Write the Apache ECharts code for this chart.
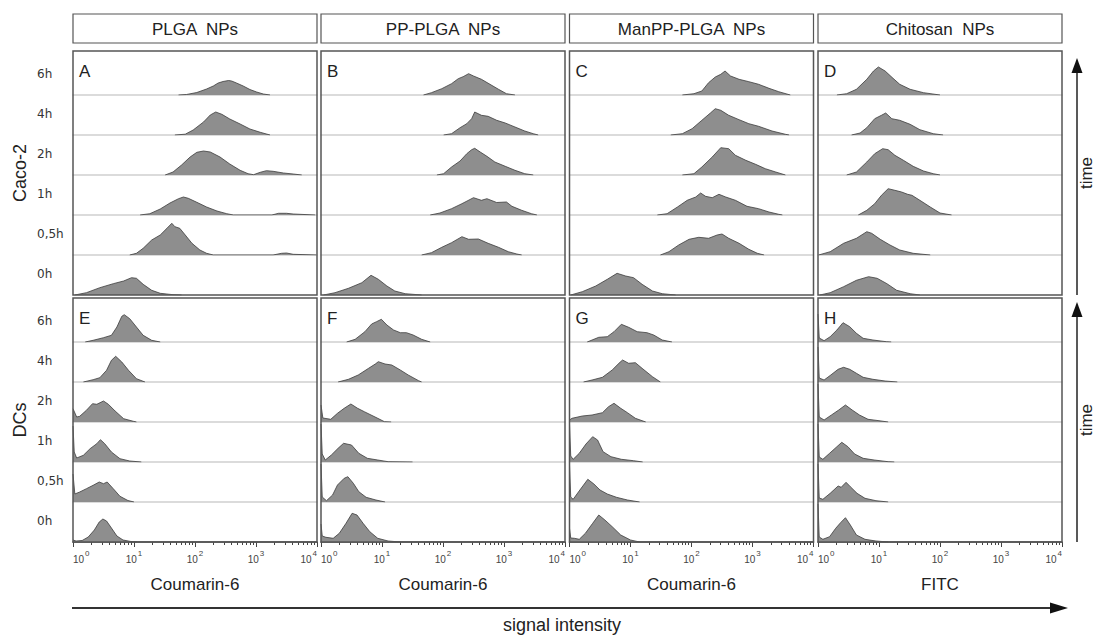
<!DOCTYPE html>
<html>
<head>
<meta charset="utf-8">
<script src="https://cdn.jsdelivr.net/npm/echarts@6/dist/echarts.min.js"></script>
<style>
  html, body { margin: 0; padding: 0; background: #fff; }
  #chart { width: 1097px; height: 635px; }
</style>
</head>
<body>
<div id="chart"></div>
<script>
// Row labels, top strip first
const timePoints = ['6h', '4h', '2h', '1h', '0,5h', '0h'];
const particles = ['PLGA  NPs', 'PP-PLGA  NPs', 'ManPP-PLGA  NPs', 'Chitosan  NPs'];
const dyes = ['Coumarin-6', 'Coumarin-6', 'Coumarin-6', 'FITC'];
const cellLines = ['Caco-2', 'DCs'];
const panelLetters = ['A', 'B', 'C', 'D', 'E', 'F', 'G', 'H'];
// decade exponents shown on the log axis (10^0 .. 10^4)
const decades = [0, 1, 2, 3, 4];

// Histograms: [log10 signal intensity, cell count (scaled)], order 6h .. 0h
const histA = [
  [[1.73,0],[1.86,0.5],[2.03,2.5],[2.19,6],[2.30,9],[2.38,12],[2.46,13.5],[2.55,14.5],[2.60,14],[2.68,12],[2.79,9],[2.90,5.5],[3.01,3],[3.12,1],[3.23,0]],
  [[1.67,0],[1.84,0.8],[1.97,5],[2.14,13],[2.25,20],[2.34,23],[2.44,20.7],[2.57,16],[2.74,11],[2.90,6],[3.07,2.7],[3.23,0]],
  [[1.51,0],[1.64,3],[1.78,10],[1.92,18],[2.03,22.7],[2.14,24],[2.25,23],[2.41,18],[2.57,11],[2.74,4.7],[2.87,1.3],[2.96,0.3],[3.07,2.7],[3.17,4.3],[3.28,3.7],[3.45,2],[3.61,1],[3.75,0]],
  [[1.10,0],[1.26,1.3],[1.43,6],[1.59,12],[1.73,16.3],[1.81,18],[1.89,16.7],[2.03,12.7],[2.19,8],[2.36,4],[2.52,1.3],[2.63,0],[3.26,0],[3.37,1.7],[3.50,1.7],[3.61,1],[3.97,0]],
  [[0.93,0],[1.04,1.7],[1.15,6.7],[1.29,15],[1.43,20],[1.54,26.7],[1.62,31.7],[1.67,28.3],[1.75,26.7],[1.84,20],[1.95,11.7],[2.08,5],[2.19,1.7],[2.30,0],[3.28,0],[3.42,1.7],[3.50,2],[3.61,0.7],[3.99,0]],
  [[0.03,0],[0.22,2.3],[0.44,7.3],[0.66,11.3],[0.83,14],[0.96,17.3],[1.04,16.7],[1.15,10.7],[1.29,4.7],[1.43,1.7],[1.64,0.3],[1.78,0]]
];
const histB = [
  [[1.68,0],[1.81,2.3],[1.98,6.3],[2.14,11.3],[2.25,16.3],[2.33,18.3],[2.42,21.3],[2.50,19],[2.63,15.7],[2.77,10.7],[2.91,5.7],[3.04,1.3],[3.18,0]],
  [[2.01,0],[2.14,1.3],[2.28,7.3],[2.39,11.3],[2.47,16.3],[2.52,23],[2.63,19.7],[2.74,18.7],[2.88,14.7],[3.02,12],[3.18,8],[3.34,4],[3.48,1.3],[3.56,0]],
  [[1.90,0],[2.01,1.3],[2.14,8],[2.28,14],[2.39,21.3],[2.47,25.3],[2.52,26.7],[2.61,23],[2.72,18.7],[2.85,13],[3.02,8.7],[3.18,4.7],[3.34,1.3],[3.48,0]],
  [[1.79,0],[1.95,2],[2.14,6.3],[2.31,11.3],[2.50,17.3],[2.63,14.7],[2.72,16.3],[2.88,12.5],[3.04,13],[3.13,8.7],[3.29,4.7],[3.45,1.3],[3.54,0]],
  [[1.65,0],[1.81,2.3],[1.98,7.7],[2.14,12.3],[2.31,18.3],[2.42,15.7],[2.58,16],[2.74,11.7],[2.91,7.7],[3.07,3.3],[3.21,1],[3.29,0]],
  [[0.04,0],[0.23,2.3],[0.45,6.7],[0.67,12.3],[0.82,19.7],[0.94,15.7],[1.08,9],[1.21,4],[1.38,1.3],[1.65,0]]
];
const histC = [
  [[1.85,0],[2.04,1.3],[2.17,4],[2.28,12.3],[2.39,18],[2.48,20.7],[2.55,24],[2.64,19],[2.78,15.7],[2.94,13.3],[3.10,10.7],[3.27,6.7],[3.43,3.3],[3.62,0]],
  [[1.66,0],[1.85,1.3],[2.01,6.3],[2.17,14.7],[2.31,22],[2.39,26.3],[2.48,24.7],[2.61,19.7],[2.78,15.3],[2.94,11.3],[3.10,8.7],[3.32,4],[3.54,0.7],[3.60,0]],
  [[1.85,0],[2.04,1.3],[2.17,8],[2.34,18],[2.48,27.3],[2.61,26.3],[2.72,19.7],[2.89,14.7],[3.05,10.7],[3.21,6.3],[3.38,3],[3.54,0]],
  [[1.44,0],[1.60,1.3],[1.77,8],[1.93,14.7],[2.07,18],[2.15,22],[2.23,18.7],[2.34,17.3],[2.45,20.7],[2.56,18],[2.72,14.7],[2.91,8.7],[3.10,6.3],[3.27,3],[3.43,0.7],[3.49,0]],
  [[1.49,0],[1.63,3.3],[1.79,10],[1.96,15.7],[2.12,17.7],[2.28,16.7],[2.42,20],[2.50,21],[2.61,16.7],[2.78,11.7],[2.94,5.7],[3.08,1.7],[3.19,0]],
  [[0.02,0],[0.21,3.3],[0.43,9],[0.62,15.7],[0.78,21.7],[0.92,19],[1.05,17.3],[1.19,10.7],[1.36,4],[1.52,1.3],[1.74,0]]
];
const histD = [
  [[0.31,0],[0.47,1.3],[0.63,5.7],[0.80,15.7],[0.91,24],[0.99,28],[1.10,24],[1.23,16.7],[1.34,10.7],[1.51,5.7],[1.73,2.3],[2.00,0]],
  [[0.55,0],[0.69,2],[0.80,7.3],[0.93,16.3],[1.04,19.7],[1.11,22],[1.21,16.3],[1.34,14.7],[1.51,10.7],[1.67,5.3],[1.89,1.3],[2.05,0]],
  [[0.47,0],[0.63,3],[0.80,13],[0.93,21.3],[1.06,26.3],[1.15,25.3],[1.26,19.7],[1.40,14.7],[1.56,8.7],[1.73,4],[1.89,1.3],[2.00,0]],
  [[0.66,0],[0.80,4.7],[0.93,11.3],[1.04,19.7],[1.15,26.3],[1.26,24.7],[1.37,23],[1.47,20.7],[1.54,19.7],[1.67,14.7],[1.84,8],[2.00,2],[2.19,0]],
  [[0.01,0],[0.20,3.3],[0.42,11.7],[0.63,16.7],[0.80,23.3],[0.88,21.7],[1.02,15.7],[1.18,10],[1.34,5],[1.56,1.7],[1.84,0]],
  [[0.03,0],[0.20,2.3],[0.42,8.3],[0.63,14.7],[0.83,18.3],[0.97,16.7],[1.13,11.3],[1.29,4.7],[1.51,1.3],[1.67,0]]
];
const histE = [
  [[0.20,0],[0.33,1.7],[0.50,4.3],[0.63,6.7],[0.72,15],[0.80,25.7],[0.84,27.3],[0.93,23.3],[1.04,15],[1.15,6.7],[1.29,1.7],[1.43,0]],
  [[0.17,0],[0.33,2.3],[0.44,4.3],[0.55,11.7],[0.63,21.7],[0.70,25.7],[0.80,20],[0.91,11.7],[1.04,3.3],[1.18,0]],
  [[0,13.3],[0.06,5],[0.11,5.7],[0.22,11.7],[0.32,18.3],[0.39,17.7],[0.50,21],[0.58,17.7],[0.69,11],[0.83,3.3],[0.99,0.7],[1.04,0]],
  [[0,36],[0.02,10],[0.06,4],[0.17,6.7],[0.28,13.3],[0.39,18.3],[0.45,22.3],[0.52,18.3],[0.63,10],[0.77,3.3],[0.93,1],[1.12,0]],
  [[0,28],[0.03,8],[0.11,10],[0.22,13.3],[0.33,16.7],[0.43,20],[0.50,18.3],[0.56,20],[0.66,13.3],[0.77,5.7],[0.90,1.5],[1.00,0]],
  [[0,2],[0.05,1],[0.15,1.5],[0.25,5],[0.35,12],[0.43,20],[0.49,23],[0.55,21],[0.63,14],[0.72,6],[0.82,2],[0.95,0.5],[1.05,0]]
];
const histF = [
  [[0.42,0],[0.56,2.7],[0.72,10.3],[0.83,18],[0.91,20.3],[0.99,22.7],[1.08,17],[1.19,12],[1.30,9.3],[1.40,9.3],[1.51,7],[1.65,2.7],[1.79,0]],
  [[0.28,0],[0.45,2.7],[0.61,7],[0.78,13.7],[0.89,18],[0.94,20.3],[1.05,18],[1.16,17],[1.30,12],[1.43,7],[1.60,1.3],[1.65,0]],
  [[0,17],[0.03,4],[0.16,2.7],[0.27,8.7],[0.38,13.7],[0.49,18],[0.60,13.7],[0.71,10.3],[0.82,7],[0.93,3.7],[1.04,0.3],[1.15,0]],
  [[0,38],[0.02,8],[0.07,2],[0.17,7],[0.28,13.7],[0.37,18.7],[0.50,17],[0.62,8.7],[0.76,3.7],[0.93,2],[1.10,0.3],[1.50,0]],
  [[0,38],[0.02,5],[0.09,1.3],[0.19,7],[0.27,17],[0.38,23.7],[0.44,25.3],[0.53,18.7],[0.62,10.3],[0.74,4.7],[0.90,2],[1.05,0]],
  [[0,18],[0.02,6],[0.08,4.7],[0.20,3.7],[0.30,8.7],[0.41,18.7],[0.51,28.7],[0.59,27],[0.69,18.7],[0.80,10.3],[0.93,3.7],[1.10,1],[1.30,0]]
];
const histG = [
  [[0.29,0],[0.37,2],[0.48,4.7],[0.62,5.3],[0.73,10.3],[0.85,17.7],[0.97,14.7],[1.11,10.3],[1.27,9.3],[1.38,7],[1.52,2],[1.68,0]],
  [[0.23,0],[0.37,2],[0.54,4.7],[0.70,12],[0.81,18.7],[0.87,22],[0.97,18.7],[1.08,19.3],[1.19,13.7],[1.36,5.3],[1.49,0]],
  [[0,2],[0.04,3.7],[0.21,6],[0.37,7],[0.54,9.3],[0.64,15.3],[0.73,18.7],[0.84,13.7],[0.95,9.3],[1.08,3.7],[1.25,0]],
  [[0,38],[0.02,6],[0.06,2.7],[0.16,8.7],[0.27,18],[0.38,25.3],[0.46,22],[0.55,10.3],[0.68,5.3],[0.85,2.7],[1.05,1.3],[1.20,0]],
  [[0,37],[0.02,5],[0.06,2.7],[0.17,12],[0.30,22.7],[0.40,18],[0.50,12],[0.62,8],[0.77,4.7],[0.95,2],[1.15,0]],
  [[0,13.7],[0.02,4],[0.08,3.7],[0.16,2.7],[0.26,8.7],[0.38,18.7],[0.48,27],[0.58,22],[0.70,15.3],[0.84,7],[1.00,2],[1.15,0]]
];
const histH = [
  [[0,28],[0.02,4],[0.10,1.3],[0.20,5.3],[0.31,12],[0.41,19.3],[0.52,15.3],[0.63,8.7],[0.74,3.7],[0.90,2],[1.12,0.3],[1.20,0]],
  [[0,35],[0.02,4],[0.10,2],[0.21,7],[0.33,12.7],[0.42,14.7],[0.52,12.7],[0.63,8.7],[0.74,4.7],[0.90,2.7],[1.10,1],[1.30,0]],
  [[0,38],[0.02,5],[0.10,2],[0.22,7],[0.34,12],[0.45,17],[0.56,12],[0.68,7],[0.82,2.7],[1.00,1.3],[1.15,0]],
  [[0,38],[0.02,5],[0.08,2.7],[0.19,8.7],[0.31,15.3],[0.39,19.7],[0.49,15.3],[0.60,8],[0.74,3.7],[0.92,2],[1.15,0.3],[1.25,0]],
  [[0,38],[0.02,4],[0.08,2.7],[0.20,8.7],[0.33,16],[0.38,14.7],[0.46,19.7],[0.53,15.3],[0.64,8.7],[0.77,3.7],[0.95,1.3],[1.15,0]],
  [[0,38],[0.02,5],[0.08,2.7],[0.19,5.3],[0.29,13.7],[0.37,19.3],[0.45,24.3],[0.53,17],[0.63,7],[0.77,2.7],[0.95,1],[1.15,0]]
];

const panels = [histA, histB, histC, histD, histE, histF, histG, histH];

// layout
const colLeft = [73, 321, 569.5, 818];
const panelWidth = 244;
const panelTop = [51, 298];
const panelBottom = [295, 542];
const stripHeight = 40;
const sans = 'Liberation Sans, Arial, sans-serif';

// minor ticks of the log axis at 2..9 x 10^n
const minorTicks = [];
decades.slice(0, -1).forEach(d => {
  for (let k = 2; k <= 9; k++) minorTicks.push(d + Math.log10(k));
});

const grids = [];
const xAxes = [];
const yAxes = [];
const series = [];
const graphics = [];

panels.forEach((hists, p) => {
  const c = p % 4;
  const r = Math.floor(p / 4);
  hists.forEach((data, s) => {
    const base = panelBottom[r] - (5 - s) * stripHeight;
    const gi = grids.length;
    grids.push({
      left: colLeft[c], width: panelWidth,
      top: base - stripHeight, height: stripHeight,
      outerBoundsMode: 'none'
    });
    const lastStrip = s === 5;
    const withScale = lastStrip && r === 1;
    const xi = xAxes.length;
    xAxes.push({
      gridIndex: gi, type: 'value', min: 0, max: 4, interval: 1, position: 'bottom',
      axisLine: { show: !lastStrip || withScale, lineStyle: { color: withScale ? '#444' : '#cfcfcf', width: 1.5 } },
      axisTick: { show: withScale, length: 5, lineStyle: { color: '#444', width: 1 } },
      axisLabel: {
        show: withScale, margin: 7, alignMinLabel: 'left', alignMaxLabel: 'right',
        formatter: v => '{b|10}{e|' + v + '}',
        rich: {
          b: { fontSize: 10, color: '#444', fontFamily: sans, verticalAlign: 'bottom' },
          e: { fontSize: 8, color: '#444', fontFamily: sans, verticalAlign: 'bottom', padding: [0, 0, 7, 1] }
        }
      },
      splitLine: { show: false },
      name: withScale ? dyes[c] : '',
      nameLocation: 'middle', nameGap: 34,
      nameTextStyle: { fontSize: 17, color: '#222', fontFamily: sans }
    });
    if (withScale) {
      xAxes.push({
        gridIndex: gi, type: 'value', min: 0, max: 4, position: 'bottom',
        axisLine: { show: false },
        axisTick: { show: true, length: 3, customValues: minorTicks, lineStyle: { color: '#444', width: 1 } },
        axisLabel: { show: false },
        splitLine: { show: false }
      });
    }
    yAxes.push({ gridIndex: gi, type: 'value', min: 0, max: stripHeight, show: false, splitLine: { show: false } });
    series.push({
      type: 'line',
      name: panelLetters[p] + ' ' + timePoints[s],
      xAxisIndex: xi, yAxisIndex: gi,
      data: data,
      symbol: 'none', smooth: false, silent: true,
      lineStyle: { color: '#3c3c3c', width: 0.8 },
      areaStyle: { color: '#8e8e8e', opacity: 1 }
    });
    if (c === 0) {
      graphics.push({
        type: 'text', x: 37, y: base - 21, z: 110,
        style: { text: timePoints[s], fontSize: 12, fontFamily: 'DejaVu Sans, sans-serif', fill: '#333', align: 'left', verticalAlign: 'middle' }
      });
    }
  });

  // panel frame and letter
  graphics.push({
    type: 'rect', z: 100,
    shape: { x: colLeft[c], y: panelTop[r], width: panelWidth, height: panelBottom[r] - panelTop[r] },
    style: { fill: 'none', stroke: '#555', lineWidth: 1.5 }
  });
  graphics.push({
    type: 'text', x: colLeft[c] + 6, y: panelTop[r] + 20, z: 110,
    style: { text: panelLetters[p], fontSize: 17, fontFamily: sans, fill: '#222', align: 'left', verticalAlign: 'middle' }
  });
});

// column headers
particles.forEach((name, c) => {
  graphics.push({
    type: 'rect', z: 100,
    shape: { x: colLeft[c], y: 14, width: panelWidth, height: 29 },
    style: { fill: 'none', stroke: '#555', lineWidth: 1.2 }
  });
  graphics.push({
    type: 'text', x: colLeft[c] + panelWidth / 2, y: 29, z: 110,
    style: { text: name, fontSize: 17, fontFamily: sans, fill: '#222', align: 'center', verticalAlign: 'middle' }
  });
});

// cell line labels, time arrows
cellLines.forEach((name, r) => {
  const mid = (panelTop[r] + panelBottom[r]) / 2;
  graphics.push({
    type: 'text', x: 20, y: mid, rotation: Math.PI / 2, z: 110,
    style: { text: name, fontSize: 18, fontFamily: sans, fill: '#222', align: 'center', verticalAlign: 'middle' }
  });
  graphics.push({
    type: 'text', x: 1086, y: mid, rotation: Math.PI / 2, z: 110,
    style: { text: 'time', fontSize: 17, fontFamily: sans, fill: '#222', align: 'center', verticalAlign: 'middle' }
  });
  const tip = panelTop[r] + (r === 0 ? 7 : 4);
  graphics.push({
    type: 'line', z: 100,
    shape: { x1: 1077, y1: panelBottom[r], x2: 1077, y2: tip + 12 },
    style: { stroke: '#222', lineWidth: 1.5 }
  });
  graphics.push({
    type: 'polygon', z: 100,
    shape: { points: [[1077, tip], [1071.5, tip + 15], [1082.5, tip + 15]] },
    style: { fill: '#111' }
  });
});

// signal intensity arrow
graphics.push({
  type: 'line', z: 100,
  shape: { x1: 72, y1: 608, x2: 1052, y2: 608 },
  style: { stroke: '#333', lineWidth: 2 }
});
graphics.push({
  type: 'polygon', z: 100,
  shape: { points: [[1068, 608], [1050, 602.5], [1050, 613.5]] },
  style: { fill: '#111' }
});
graphics.push({
  type: 'text', x: 562, y: 625, z: 110,
  style: { text: 'signal intensity', fontSize: 18, fontFamily: sans, fill: '#222', align: 'center', verticalAlign: 'middle' }
});

const chart = echarts.init(document.getElementById('chart'), null, { renderer: 'svg' });
chart.setOption({
  animation: false,
  backgroundColor: '#fff',
  grid: grids,
  xAxis: xAxes,
  yAxis: yAxes,
  series: series,
  graphic: graphics
});
</script>
</body>
</html>
